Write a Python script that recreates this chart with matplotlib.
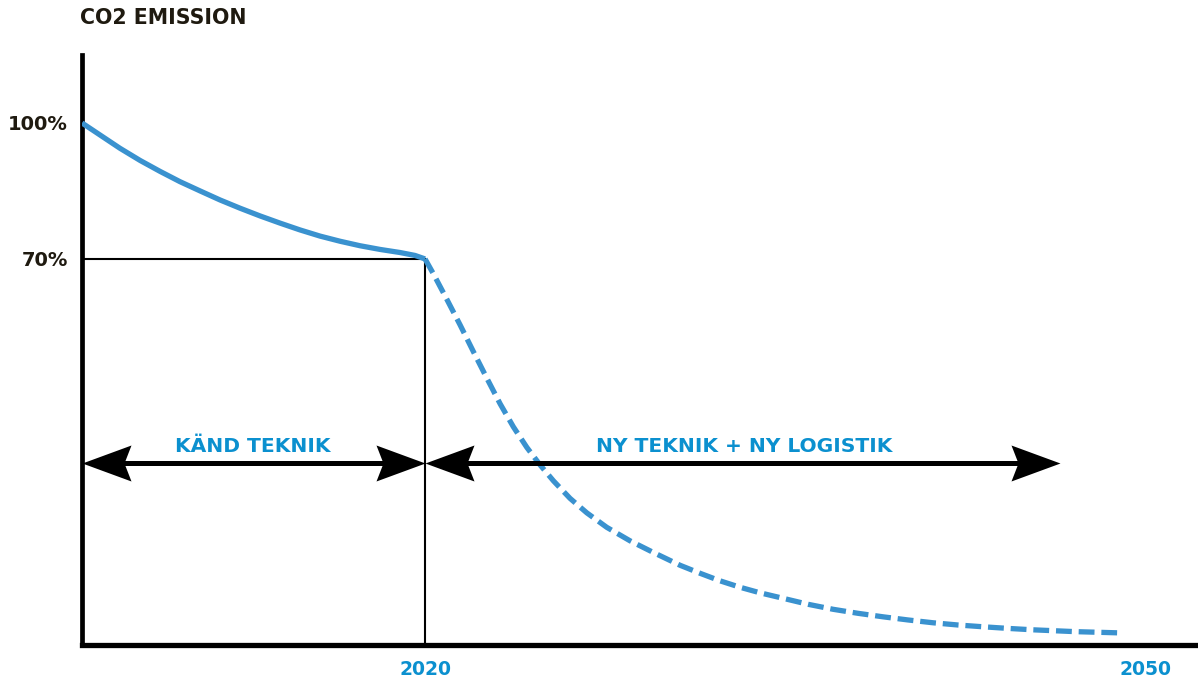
import matplotlib
matplotlib.use("Agg")
import matplotlib.pyplot as plt
from matplotlib.path import Path

# ---- data ----
known_years = [2005.71, 2006.46, 2007.29, 2008.13, 2008.96, 2009.79, 2010.63, 2011.46,
               2012.29, 2013.13, 2013.96, 2014.79, 2015.63, 2016.46, 2017.29, 2018.13,
               2018.96, 2019.58, 2020.0]
known_emission = [100.0, 97.35, 94.42, 91.73, 89.32, 87.05, 85.00, 83.01,
                  81.20, 79.48, 77.90, 76.40, 75.03, 73.90, 72.91, 72.09,
                  71.41, 70.77, 70.0]

new_years = [2020.0, 2020.35, 2020.90, 2021.46, 2022.01, 2022.57, 2023.13, 2023.68,
             2024.24, 2024.79, 2025.35, 2026.04, 2026.74, 2027.57, 2028.54, 2029.5,
             2030.63, 2031.46, 2032.29, 2033.13, 2033.96, 2034.92, 2035.96, 2037.0,
             2038.04, 2039.08, 2040.13, 2041.17, 2042.21, 2043.25, 2044.29, 2045.33,
             2047.08, 2048.83]
new_emission = [70.0, 66.69, 61.17, 55.44, 49.58, 43.73, 38.01, 32.94,
                28.41, 24.55, 21.02, 17.16, 13.96, 10.77, 7.79, 5.25,
                2.38, 0.62, -1.04, -2.47, -3.69, -4.90, -6.22, -7.32,
                -8.21, -8.98, -9.68, -10.30, -10.79, -11.18, -11.54, -11.85,
                -12.25, -12.51]

y_ticks = [100, 70]
y_tick_labels = ["100%", "70%"]
x_ticks = [2020, 2050]
x_tick_labels = ["2020", "2050"]

phase_labels = ["KÄND TEKNIK", "NY TEKNIK + NY LOGISTIK"]
phase_bounds = [(2005.71, 2020.0), (2020.0, 2046.46)]
phase_label_x = [2012.83, 2033.3]
arrow_level = 25.0
label_level = 27.4

title = "CO2 EMISSION"

# ---- styling ----
BLUE_LINE = "#3a92cf"
BLUE_TEXT = "#0b90cf"
DARK = "#1f1a10"

fig = plt.figure(figsize=(11.98, 6.82), dpi=100)
ax = fig.add_axes([82 / 1198, (682 - 645) / 682, (1198 - 82) / 1198, (645 - 55) / 682])
ax.set_xlim(2005.71, 2052.2)
ax.set_ylim(-15.2, 115.0)

for s in ["top", "right"]:
    ax.spines[s].set_visible(False)
ax.spines["left"].set_linewidth(3.4)
ax.spines["bottom"].set_linewidth(3.8)
ax.spines["left"].set_color("black")
ax.spines["bottom"].set_color("black")

# guide lines
ax.plot([ax.get_xlim()[0], 2020], [70, 70], color="black", lw=1.5, zorder=2)
ax.plot([2020, 2020], [ax.get_ylim()[0], 70], color="black", lw=1.5, zorder=2)

# curves
ax.plot(known_years, known_emission, color=BLUE_LINE, lw=3.8,
        solid_capstyle="butt", solid_joinstyle="round", zorder=4)
ax.plot(new_years, new_emission, color=BLUE_LINE, lw=3.8, linestyle=(0, (3.0, 1.3)),
        dash_capstyle="butt", dash_joinstyle="round", zorder=4)

# notched arrow heads as custom markers (tip at origin, pointing right)
head_verts = [(0, 0), (-49, 18), (-42, 0), (-49, -18), (0, 0)]
head_codes = [Path.MOVETO, Path.LINETO, Path.LINETO, Path.LINETO, Path.CLOSEPOLY]
head_right = Path(head_verts, head_codes)
head_left = Path([(-x, y) for x, y in head_verts], head_codes)
ms = 2 * 49 * 0.72

for (x0, x1), lab, lx in zip(phase_bounds, phase_labels, phase_label_x):
    ax.plot([x0 + 0.8, x1 - 0.8], [arrow_level, arrow_level], color="black", lw=3.6,
            solid_capstyle="butt", zorder=5)
    ax.plot([x0], [arrow_level], marker=head_left, markersize=ms, color="black",
            markeredgewidth=0, zorder=6)
    ax.plot([x1], [arrow_level], marker=head_right, markersize=ms, color="black",
            markeredgewidth=0, zorder=6)
    ax.text(lx, label_level, lab, color=BLUE_TEXT, fontsize=14.6, fontweight="bold",
            ha="center", va="baseline")

# ticks
ax.set_yticks(y_ticks)
ax.set_yticklabels(y_tick_labels, fontsize=14, fontweight="bold", color=DARK)
ax.set_xticks(x_ticks)
ax.set_xticklabels(x_tick_labels, fontsize=13.5, fontweight="bold", color=BLUE_TEXT)
ax.tick_params(axis="y", length=0, pad=10)
ax.tick_params(axis="x", length=0, pad=11)

fig.text(80 / 1198, 1 - 18 / 682, title, fontsize=14.8, fontweight="bold", color=DARK,
         ha="left", va="center")

fig.savefig("out.png", dpi=100, facecolor="white")
